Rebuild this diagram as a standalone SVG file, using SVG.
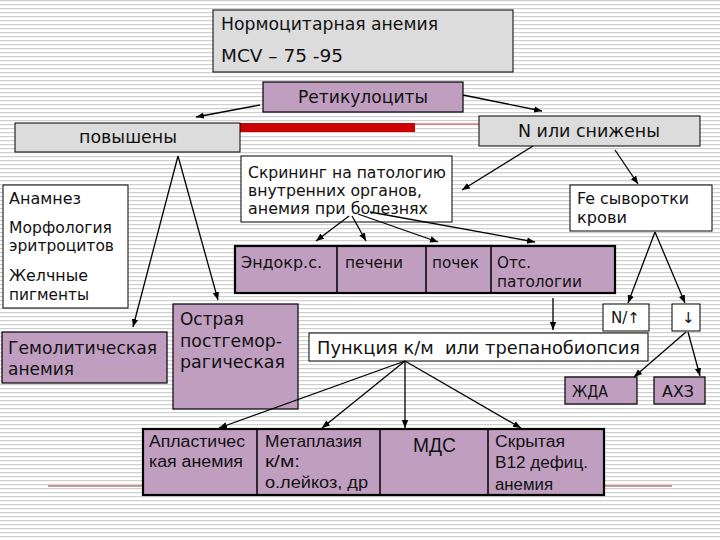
<svg xmlns="http://www.w3.org/2000/svg" width="720" height="540" viewBox="0 0 720 540">
<defs>
<pattern id="stripes" width="8" height="4" patternUnits="userSpaceOnUse">
<rect width="8" height="4" fill="#ffffff"/>
<rect y="0" width="8" height="1.2" fill="#cfcfcf"/>
</pattern>
<marker id="ah" viewBox="0 0 10 10" refX="10" refY="5" markerWidth="8" markerHeight="8" orient="auto" markerUnits="userSpaceOnUse">
<path d="M0,1 L10,5 L0,9 z" fill="#000"/>
</marker>
</defs>
<style>
.gray{fill:#dcdcdc;stroke:#000;stroke-width:1}
.white{fill:#ffffff;stroke:#000;stroke-width:1}
.lil{fill:#c09ec0;stroke:#000;stroke-width:1.2}
.thick{fill:#c09ec0;stroke:#000;stroke-width:2.2}
.div{stroke:#000;stroke-width:1.5}
text{font-family:"DejaVu Sans","Liberation Sans",sans-serif;fill:#111}
.t17{font-size:17px}
.t15{font-size:15px}
.nar{font-family:"Liberation Sans Narrow","Liberation Sans",sans-serif;font-size:16px}
.conn line{stroke:#000;stroke-width:1.3;marker-end:url(#ah)}
</style>
<rect width="720" height="540" fill="url(#stripes)"/>
<g id="decor">
<line x1="240" y1="124" x2="482" y2="124" stroke="#d04040" stroke-width="1"/>
<rect x="240" y="123" width="175" height="9" fill="#cc0000"/>
<line x1="48" y1="486" x2="672" y2="486" stroke="#a03030" stroke-width="1"/>
</g>
<g id="n-normo">
<rect class="gray" x="213" y="10" width="300" height="62"/>
<text class="t17" x="221" y="30" textLength="217" lengthAdjust="spacingAndGlyphs">Нормоцитарная анемия</text>
<text class="t17" x="221" y="62" textLength="122" lengthAdjust="spacingAndGlyphs">MCV – 75 -95</text>
</g>
<g id="n-retic">
<rect class="lil" x="263" y="82" width="200" height="30"/>
<text class="t17" x="298" y="103" textLength="130" lengthAdjust="spacingAndGlyphs">Ретикулоциты</text>
</g>
<g id="n-up">
<rect class="gray" x="15" y="123" width="225" height="29"/>
<text class="t17" x="79" y="143" textLength="98" lengthAdjust="spacingAndGlyphs">повышены</text>
</g>
<g id="n-down">
<rect class="gray" x="479" y="116" width="221" height="30"/>
<text class="t17" x="518" y="137" textLength="142" lengthAdjust="spacingAndGlyphs">N или снижены</text>
</g>
<g id="n-anam">
<rect class="white" x="3" y="185" width="125" height="123"/>
<text class="t15" x="9" y="204" textLength="72" lengthAdjust="spacingAndGlyphs">Анамнез</text>
<text class="t15" x="9" y="233" textLength="103" lengthAdjust="spacingAndGlyphs">Морфология</text>
<text class="t15" x="9" y="251" textLength="105" lengthAdjust="spacingAndGlyphs">эритроцитов</text>
<text class="t15" x="9" y="281" textLength="79" lengthAdjust="spacingAndGlyphs">Желчные</text>
<text class="t15" x="9" y="300" textLength="80" lengthAdjust="spacingAndGlyphs">пигменты</text>
</g>
<g id="n-screen">
<rect class="white" x="241" y="156" width="211" height="66"/>
<text class="t15" x="248" y="178" textLength="198" lengthAdjust="spacingAndGlyphs">Скрининг на патологию</text>
<text class="t15" x="248" y="196" textLength="174" lengthAdjust="spacingAndGlyphs">внутренних органов,</text>
<text class="t15" x="248" y="214" textLength="180" lengthAdjust="spacingAndGlyphs">анемия при болезнях</text>
</g>
<g id="n-fe">
<rect class="white" x="570" y="185" width="142" height="46"/>
<text class="t15" x="577" y="204" textLength="112" lengthAdjust="spacingAndGlyphs">Fe сыворотки</text>
<text class="t15" x="577" y="223" textLength="50" lengthAdjust="spacingAndGlyphs">крови</text>
</g>
<g id="n-organs">
<rect class="thick" x="235" y="246" width="380" height="47"/>
<line class="div" x1="337" y1="246" x2="337" y2="293"/>
<line class="div" x1="426" y1="246" x2="426" y2="293"/>
<line class="div" x1="491" y1="246" x2="491" y2="293"/>
<text class="t15" x="241" y="268" textLength="81" lengthAdjust="spacingAndGlyphs">Эндокр.с.</text>
<text class="t15" x="345" y="268" textLength="58" lengthAdjust="spacingAndGlyphs">печени</text>
<text class="t15" x="432" y="268" textLength="47" lengthAdjust="spacingAndGlyphs">почек</text>
<text class="t15" x="497" y="268" textLength="34" lengthAdjust="spacingAndGlyphs">Отс.</text>
<text class="t15" x="497" y="287" textLength="85" lengthAdjust="spacingAndGlyphs">патологии</text>
</g>
<g id="n-hemol">
<rect class="lil" x="2" y="332" width="165" height="51"/>
<text class="t17" x="8" y="354" textLength="149" lengthAdjust="spacingAndGlyphs">Гемолитическая</text>
<text class="t17" x="8" y="375" textLength="66" lengthAdjust="spacingAndGlyphs">анемия</text>
</g>
<g id="n-acute">
<rect class="lil" x="173" y="304" width="125" height="105"/>
<text class="t17" x="180" y="325" textLength="64" lengthAdjust="spacingAndGlyphs">Острая</text>
<text class="t17" x="180" y="347" textLength="102" lengthAdjust="spacingAndGlyphs">постгемор-</text>
<text class="t17" x="180" y="368" textLength="105" lengthAdjust="spacingAndGlyphs">рагическая</text>
</g>
<g id="n-nup">
<rect class="white" x="603" y="304" width="46" height="27"/>
<text class="t15" x="611" y="323" textLength="29" lengthAdjust="spacingAndGlyphs">N/↑</text>
</g>
<g id="n-dn">
<rect class="white" x="672" y="304" width="28" height="27"/>
<text class="t15" x="682" y="323">↓</text>
</g>
<g id="n-punct">
<rect class="white" x="309" y="333" width="339" height="28"/>
<text class="t17" x="317" y="354" textLength="323" lengthAdjust="spacingAndGlyphs" xml:space="preserve">Пункция к/м  или трепанобиопсия</text>
</g>
<g id="n-zda">
<rect class="lil" x="565" y="377" width="72" height="27"/>
<text class="t15" x="572" y="397" textLength="36" lengthAdjust="spacingAndGlyphs">ЖДА</text>
</g>
<g id="n-ahz">
<rect class="lil" x="654" y="377" width="51" height="27"/>
<text class="t15" x="662" y="397" textLength="32" lengthAdjust="spacingAndGlyphs">АХЗ</text>
</g>
<g id="n-bottom">
<rect class="thick" x="143" y="429" width="461" height="66"/>
<line class="div" x1="257" y1="429" x2="257" y2="495"/>
<line class="div" x1="380" y1="429" x2="380" y2="495"/>
<line class="div" x1="488" y1="429" x2="488" y2="495"/>
<text class="nar" x="149" y="447" textLength="96" lengthAdjust="spacingAndGlyphs">Апластичес</text>
<text class="nar" x="149" y="467" textLength="94" lengthAdjust="spacingAndGlyphs">кая анемия</text>
<text class="nar" x="265" y="447" textLength="97" lengthAdjust="spacingAndGlyphs">Метаплазия</text>
<text class="nar" x="265" y="467" textLength="35" lengthAdjust="spacingAndGlyphs">к/м:</text>
<text class="nar" x="265" y="488" textLength="103" lengthAdjust="spacingAndGlyphs">о.лейкоз, др</text>
<text class="nar" x="413" y="452" style="font-size:20px" textLength="43" lengthAdjust="spacingAndGlyphs">МДС</text>
<text class="nar" x="495" y="447" textLength="70" lengthAdjust="spacingAndGlyphs">Скрытая</text>
<text class="nar" x="495" y="468" textLength="93" lengthAdjust="spacingAndGlyphs">В12 дефиц.</text>
<text class="nar" x="495" y="490" textLength="58" lengthAdjust="spacingAndGlyphs">анемия</text>
</g>
<g id="connectors" class="conn">
<line x1="260" y1="105" x2="196" y2="117"/>
<line x1="463" y1="95" x2="542" y2="111"/>
<line x1="178" y1="156" x2="218" y2="300"/>
<line x1="178" y1="156" x2="133" y2="327"/>
<line x1="533" y1="146" x2="462" y2="190"/>
<line x1="615" y1="150" x2="638" y2="184"/>
<line x1="349" y1="216" x2="316" y2="241"/>
<line x1="352" y1="216" x2="366" y2="241"/>
<line x1="358" y1="214" x2="438" y2="242"/>
<line x1="370" y1="212" x2="535" y2="242"/>
<line x1="655" y1="232" x2="628" y2="303"/>
<line x1="655" y1="232" x2="685" y2="303"/>
<line x1="553" y1="298" x2="553" y2="330"/>
<line x1="686" y1="332" x2="634" y2="377"/>
<line x1="688" y1="332" x2="700" y2="376"/>
<line x1="405" y1="361" x2="219" y2="428"/>
<line x1="405" y1="361" x2="322" y2="428"/>
<line x1="405" y1="361" x2="405" y2="428"/>
<line x1="405" y1="361" x2="521" y2="428"/>
</g>
</svg>
